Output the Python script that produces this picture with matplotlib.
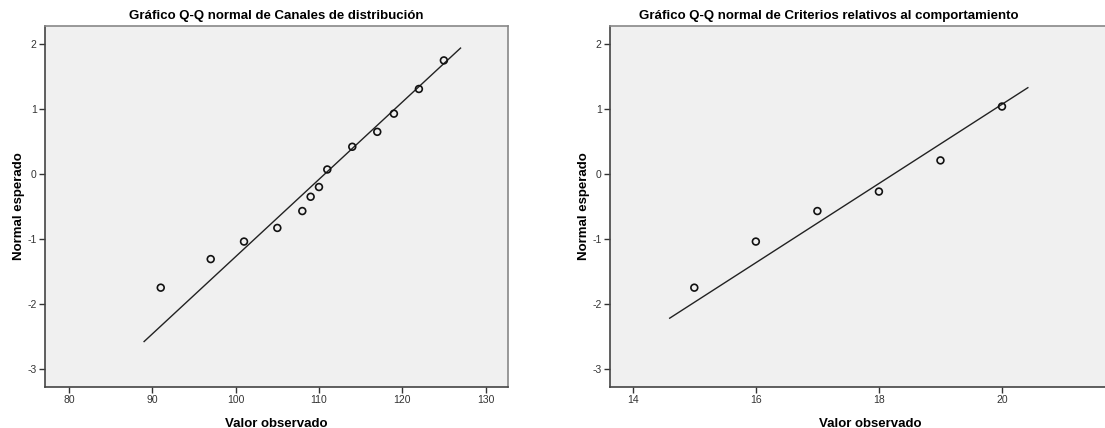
import matplotlib.pyplot as plt

plt.rcParams['font.family'] = ['Liberation Sans', 'DejaVu Sans']
plt.rcParams['axes.unicode_minus'] = False

# Canales de distribucion
canales_obs = [91, 97, 101, 105, 108, 109, 110, 111, 114, 117, 119, 122, 125]
canales_esp = [-1.75, -1.31, -1.04, -0.83, -0.57, -0.35, -0.20, 0.07, 0.42, 0.65, 0.93, 1.31, 1.75]
canales_line_x = [89, 127]
canales_line_y = [-2.58, 1.94]
canales_xticks = [80, 90, 100, 110, 120, 130]

# Criterios relativos al comportamiento
criterios_obs = [15, 16, 17, 18, 19, 20]
criterios_esp = [-1.75, -1.04, -0.57, -0.27, 0.21, 1.04]
criterios_line_x = [14.6, 20.42]
criterios_line_y = [-2.22, 1.33]
criterios_xticks = [14, 16, 18, 20]

yticks = [2, 1, 0, -1, -2, -3]


def qq_panel(ax, obs, esp, lx, ly, xticks, xlim, title):
    ax.set_facecolor('#f0f0f0')
    ax.plot(lx, ly, color='#222222', lw=1.0)
    ax.scatter(obs, esp, s=24, facecolors='none', edgecolors='#111111', linewidths=1.2, zorder=3)
    ax.set_xlim(*xlim)
    ax.set_ylim(-3.28, 2.28)
    ax.set_xticks(xticks)
    ax.set_yticks(yticks)
    ax.tick_params(labelsize=7.5, colors='#333333', length=4, width=1.0, pad=2)
    for s in ['left', 'bottom']:
        ax.spines[s].set_color('#444444')
        ax.spines[s].set_linewidth(1.2)
    for s in ['top', 'right']:
        ax.spines[s].set_color('#888888')
        ax.spines[s].set_linewidth(1.2)
    ax.set_title(title, fontsize=9.5, fontweight='bold', pad=5)
    ax.set_xlabel('Valor observado', fontsize=9.5, fontweight='bold', labelpad=9)
    ax.set_ylabel('Normal esperado', fontsize=9.5, fontweight='bold', labelpad=2)


fig = plt.figure(figsize=(11.05, 4.28), dpi=100)
ax1 = fig.add_axes([45 / 1105, 41 / 428, 463 / 1105, 361 / 428])
ax2 = fig.add_axes([610 / 1105, 41 / 428, 520 / 1105, 361 / 428])

qq_panel(ax1, canales_obs, canales_esp, canales_line_x, canales_line_y,
         canales_xticks, (77.1, 132.7), 'Gráfico Q-Q normal de Canales de distribución')
qq_panel(ax2, criterios_obs, criterios_esp, criterios_line_x, criterios_line_y,
         criterios_xticks, (13.63, 22.08), 'Gráfico Q-Q normal de Criterios relativos al comportamiento')
# title centred on the visible part of the right panel
ax2.title.set_x(0.42)

fig.savefig('out.png', dpi=100)
